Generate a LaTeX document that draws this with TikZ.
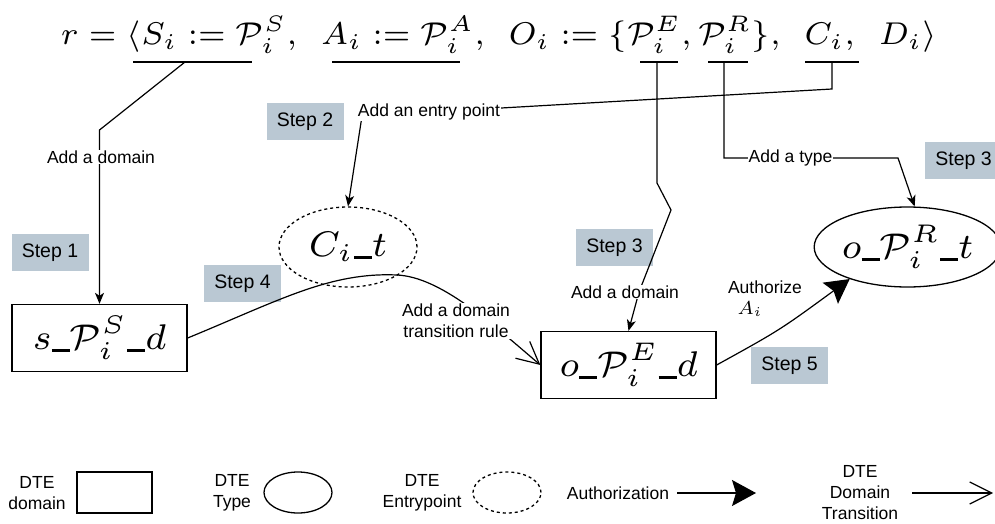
\documentclass[tikz,border=0pt]{standalone}
\usepackage{graphicx}
\usepackage[no-math]{fontspec}
\setmainfont{Liberation Sans}
\usetikzlibrary{shapes.geometric,arrows.meta}
\definecolor{stepfill}{HTML}{BAC8D3}
\newcommand{\usc}{\mbox{\rule[-0.12ex]{0.5em}{0.16ex}}}
\newcommand{\nodemath}[1]{\scalebox{5.1}{\fontsize{7}{8}\selectfont$#1$}}
\begin{document}
\begin{tikzpicture}[x=1pt,y=-1pt,
  lbl/.style={font=\fontsize{17.5}{21}\selectfont, fill=white, inner sep=1pt},
  stepbox/.style={fill=stepfill, minimum width=77pt, minimum height=37pt, inner sep=0pt, font=\fontsize{19.5}{22}\selectfont},
  domainbox/.style={draw, line width=1.3pt, minimum width=175pt, minimum height=67pt, inner sep=0pt},
  typeell/.style={draw, ellipse, line width=1.3pt, inner sep=0pt},
  entryell/.style={typeell, dash pattern=on 3pt off 3pt},
  conn/.style={line width=1.2pt},
  arr/.style={conn, -{Stealth[length=11pt,width=9pt,inset=3pt]}},
  authar/.style={conn, -{Stealth[length=24pt,width=26pt,inset=4pt]}},
  transar/.style={conn, -{Straight Barb[length=22pt,width=22pt]}},
  legtxt/.style={font=\fontsize{17.5}{21}\selectfont, align=center, inner sep=0pt},
  uline/.style={line width=2pt}
]
\useasboundingbox (0,0) rectangle (995,524);

% formula
\node[anchor=base, inner sep=0pt] (formula) at (499,45) {\resizebox{876pt}{!}{\fontsize{7}{8}\selectfont$r=\langle S_i:=\mathcal{P}_i^S,\ \ A_i:=\mathcal{P}_i^A,\ \ O_i:=\{\mathcal{P}_i^E,\mathcal{P}_i^R\},\ \ C_i,\ \ D_i\rangle$}};
\draw[uline] (133,62) -- (252,62);
\draw[uline] (332,62) -- (460,62);
\draw[uline] (640,62) -- (678,62);
\draw[uline] (708,62) -- (748,62);
\draw[uline] (805,62) -- (859,62);
\coordinate (uS) at (185,62);
\coordinate (uE) at (657,62);
\coordinate (uR) at (724,62);
\coordinate (uC) at (832,62);

% steps
\node[stepbox] (step1) at (50,252.5) {Step 1};
\node[stepbox] (step2) at (305,121.5) {Step 2};
\node[stepbox] (step4) at (242.5,283.5) {Step 4};
\node[stepbox] (step3a) at (614.5,247.5) {Step 3};
\node[stepbox] (step3b) at (963.5,160.5) {Step 3};
\node[stepbox] (step5) at (789.5,365.5) {Step 5};

% main nodes
\node[domainbox] (sd) at (99.5,338) {\nodemath{s\usc\mathcal{P}_i^S\usc d}};
\node[domainbox] (od) at (628.5,365) {\nodemath{o\usc\mathcal{P}_i^E\usc d}};
\node[typeell,minimum width=171pt,minimum height=80pt] (ot) at (907.5,247) {\nodemath{o\usc\mathcal{P}_i^R\usc t}};
\node[entryell,minimum width=138pt,minimum height=80pt] (ct) at (348,247) {\nodemath{C_i\usc t}};

% connectors
\draw[arr] (uS) -- (99.5,130) -- (sd.north);
\node[lbl] (lblS) at (101,157) {Add a domain};

\draw[arr] (uC) -- (832,89) -- (362,116) -- (ct.north);
\node[lbl] (lblC) at (429,112) {Add an entry point};

\draw[arr] (uE) -- (657,183) -- (671,210) -- (639,292) -- (od.north);
\node[lbl] (lblE) at (625,292) {Add a domain};

\draw[arr] (uR) -- (724,158) -- (898,158) -- (ot.80);
\node[lbl] (lblR) at (790.5,158) {Add a type};

\draw[transar] (sd.east) .. controls (280,300) and (330,272) .. (397,275) .. controls (440,277) and (490,322) .. (od.west);
\node[lbl, align=center] (lblT) at (456,321) {Add a domain\\transition rule};

\draw[authar] (od.east) .. controls (780,330) .. (ot.209);
\node[lbl] (auth) at (765,287) {Authorize};
\node[lbl] (authA) at (750,309) {\scalebox{2.7}{\fontsize{7}{8}\selectfont$A_i$}};

% legend
\node[legtxt] (lg1) at (37,493) {DTE\\domain};
\node[draw, line width=1.3pt, minimum width=75pt, minimum height=41pt, inner sep=0pt] (lg1s) at (114.5,492.5) {};
\node[legtxt] (lg2) at (232,493) {DTE\\Type};
\node[typeell, minimum width=68pt, minimum height=41pt] (lg2s) at (298,492.5) {};
\node[legtxt] (lg3) at (422,493) {DTE\\Entrypoint};
\node[entryell, minimum width=68pt, minimum height=41pt] (lg3s) at (507,492.5) {};
\node[legtxt] (lg4) at (618,493) {Authorization};
\coordinate (lg4a) at (677,493);
\coordinate (lg4b) at (756,493);
\draw[authar] (lg4a) -- (lg4b);
\node[legtxt] (lg5) at (860,493) {DTE\\Domain\\Transition};
\coordinate (lg5a) at (912,493);
\coordinate (lg5b) at (993,493);
\draw[transar] (lg5a) -- (lg5b);
\end{tikzpicture}
\end{document}
